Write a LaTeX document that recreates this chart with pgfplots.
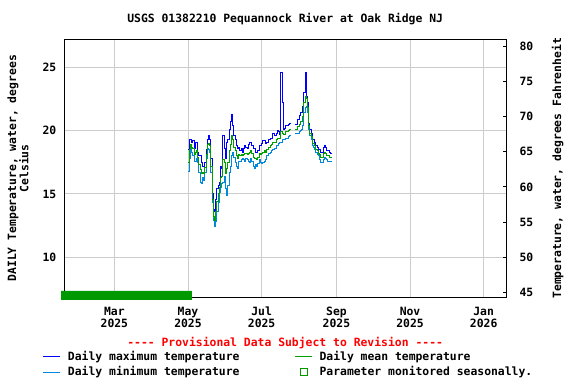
\documentclass[border=0pt]{standalone}
\usepackage{fontspec}
\setmainfont{DejaVu Sans Mono}
\usepackage{pgfplots}
\usepackage{pgfplotstable}
\pgfplotsset{compat=1.18}
\definecolor{cmax}{RGB}{0,0,255}
\definecolor{cmin}{RGB}{0,136,221}
\definecolor{cmean}{RGB}{0,160,0}
\definecolor{cseas}{RGB}{0,153,0}
\definecolor{cgrid}{RGB}{204,204,204}
\newcommand\ff{\fontsize{11.4bp}{12.4bp}\selectfont\bfseries}
\newcommand\dashes{-\kern0pt-\kern0pt-\kern0pt-}

\pgfplotstableread{
d max mean min
120 18.5 17.5 16.8
121 19.3 18.5 17.8
122 19.3 18.9 18.6
123 19.1 18.7 18.3
124 19.2 18.6 18.0
125 18.6 18.1 17.6
126 19.1 18.3 17.6
127 19.1 18.4 17.8
128 18.3 17.9 17.5
129 18.0 17.3 16.7
130 18.0 16.9 15.9
131 17.5 16.6 15.8
132 17.2 16.7 16.3
133 17.2 16.6 16.1
134 17.5 17.1 16.7
135 18.5 18.1 17.8
136 19.3 18.9 18.6
137 19.6 19.0 18.5
138 19.3 18.8 18.3
139 17.8 17.2 16.7
140 15.0 14.6 14.3
141 13.8 13.2 12.9
142 13.6 12.9 12.4
143 14.6 13.6 12.8
144 15.4 14.4 13.6
145 15.7 15.0 14.3
146 15.9 15.5 15.1
147 17.2 16.3 15.5
148 17.0 16.4 15.8
149 19.6 17.7 15.9
150 18.6 17.5 16.4
151 17.8 16.6 15.4
152 19.1 17.0 14.9
153 19.3 17.5 15.7
154 20.1 18.4 16.7
155 20.7 18.9 17.2
156 21.3 19.6 18.0
157 20.4 19.3 18.3
158 19.6 18.7 17.9
159 19.3 18.4 17.5
160 18.8 18.0 17.2
161 18.6 17.8 17.0
162 18.7 18.1 17.6
163 18.4 18.0 17.6
164 18.6 18.1 17.7
165 18.3 18.0 17.8
166 18.6 18.1 17.7
167 18.8 18.2 17.6
168 18.7 18.2 17.8
169 18.6 18.1 17.7
170 18.9 18.2 17.6
171 19.1 18.3 17.5
172 19.1 18.4 17.8
173 18.8 18.2 17.6
174 18.6 17.9 17.2
175 18.6 17.8 17.0
176 18.3 17.8 17.3
177 18.3 17.7 17.2
178 18.4 17.9 17.4
179 18.8 18.2 17.7
180 18.8 18.1 17.5
181 19.0 18.2 17.4
182 19.2 18.3 17.5
183 19.2 18.4 17.6
184 19.0 18.3 17.7
185 19.1 18.5 18.0
186 19.1 18.5 18.0
187 19.3 18.7 18.2
188 19.4 18.8 18.3
189 19.4 18.9 18.4
190 19.8 19.1 18.5
191 19.8 19.1 18.5
192 19.6 19.1 18.6
193 19.8 19.3 18.8
194 20.0 19.4 18.8
195 19.9 19.4 19.0
196 19.7 19.4 19.1
197 24.6 19.9 19.1
198 22.2 19.8 19.3
199 20.1 19.7 19.3
200 20.2 19.7 19.3
201 20.4 19.9 19.4
202 20.4 19.9 19.4
203 20.5 20.0 19.5
204 20.6 20.1 19.6
205 20.6 20.1 19.6
206 nan nan nan
209 20.5 20.1 19.8
210 20.5 20.1 19.8
211 20.9 20.3 19.8
212 21.2 20.5 19.9
213 21.4 20.7 20.0
214 21.4 20.7 20.1
215 21.9 21.1 20.4
216 23.0 22.2 21.4
217 24.6 22.7 21.8
218 22.7 22.5 21.9
219 22.2 21.8 21.4
220 20.6 20.4 20.1
221 20.1 19.8 19.6
222 19.8 19.5 19.3
223 19.3 19.0 18.8
224 19.3 19.0 18.7
225 19.1 18.8 18.5
226 18.8 18.5 18.3
227 18.7 18.4 18.1
228 18.5 18.2 18.0
229 18.5 18.1 17.7
230 18.3 17.9 17.5
231 18.3 17.9 17.5
232 18.7 18.2 17.7
233 18.8 18.3 17.9
234 18.7 18.2 17.8
235 18.4 18.0 17.7
236 18.4 18.0 17.6
237 18.3 17.9 17.6
238 18.2 17.9 17.6
239 18.2 17.9 17.6
}\temps

\begin{document}
\begin{tikzpicture}
\useasboundingbox (0,0) rectangle (576bp,384bp);
\begin{axis}[
  at={(64.3bp,86.7bp)}, anchor=south west,
  scale only axis, width=441.7bp, height=258bp,
  xmin=17.5, xmax=383.5, ymin=6.84, ymax=27.21,
  clip=false,
  unbounded coords=jump,
  axis line style={line width=1bp},
  xtick={59,120,181,243,304,365},
  xticklabels={{Mar\\2025},{May\\2025},{Jul\\2025},{Sep\\2025},{Nov\\2025},{Jan\\2026}},
  xticklabel style={align=center, font=\ff, yshift=-6bp},
  ytick={10,15,20,25},
  yticklabel style={font=\ff, xshift=-4.5bp},
  /pgf/number format/assume math mode=true,
  major tick length=0pt,
  grid=major, grid style={cgrid, line width=1bp},
  ylabel={DAILY Temperature, water, degrees\\Celsius},
  ylabel style={align=center, font=\ff, at={(axis description cs:-0.1048,0.5)}, anchor=center},
  xlabel={\dashes{} Provisional Data Subject to Revision \dashes},
  xlabel style={font=\ff, text=red, at={(axis description cs:0.5,-0.176)}, anchor=center},
  title={USGS 01382210 Pequannock River at Oak Ridge NJ},
  title style={font=\ff, at={(axis description cs:0.5,1.056)}, anchor=center},
  legend columns=2,
  legend cell align=left,
  legend style={at={(axis description cs:-0.0555,-0.194)}, anchor=north west, draw=none, fill=none, font=\ff,
    row sep=0.4bp,
    /tikz/every odd column/.append style={column sep=5bp},
    /tikz/every even column/.append style={column sep=53bp}},
]
\addlegendimage{cmax, line width=1bp}
\addlegendentry{Daily maximum temperature}
\addlegendimage{cmean, line width=1bp}
\addlegendentry{Daily mean temperature}
\addlegendimage{cmin, line width=1bp}
\addlegendentry{Daily minimum temperature}
\addlegendimage{only marks, mark=square, mark size=3.5bp, cseas, mark options={line width=1bp}}
\addlegendentry{Parameter monitored seasonally.}

\addplot[draw=cseas, fill=cseas, line width=0.6bp, forget plot] coordinates {(14.8,6.68) (123.1,6.68) (123.1,7.34) (14.8,7.34) (14.8,6.68)};
\addplot[const plot, cmax, line width=1bp, forget plot] table[x=d, y=max] {\temps};
\addplot[const plot, cmin, line width=1bp, forget plot] table[x=d, y=min] {\temps};
\addplot[const plot, cmean, line width=1bp, forget plot] table[x=d, y=mean] {\temps};
\end{axis}
\begin{axis}[
  at={(64.3bp,86.7bp)}, anchor=south west,
  scale only axis, width=441.7bp, height=258bp,
  xmin=17.5, xmax=383.5, ymin=44.31, ymax=80.98,
  axis y line*=right, axis x line=none,
  axis line style={line width=1bp},
  ytick={45,50,55,60,65,70,75,80},
  yticklabel style={font=\ff, xshift=10bp},
  /pgf/number format/assume math mode=true,
  major tick length=3bp, tick align=inside,
  tick style={black, line width=1bp},
  ylabel={Temperature, water, degrees Fahrenheit},
  ylabel style={font=\ff, at={(axis description cs:1.117,0.5)}, anchor=center},
]
\end{axis}
\end{tikzpicture}
\end{document}
